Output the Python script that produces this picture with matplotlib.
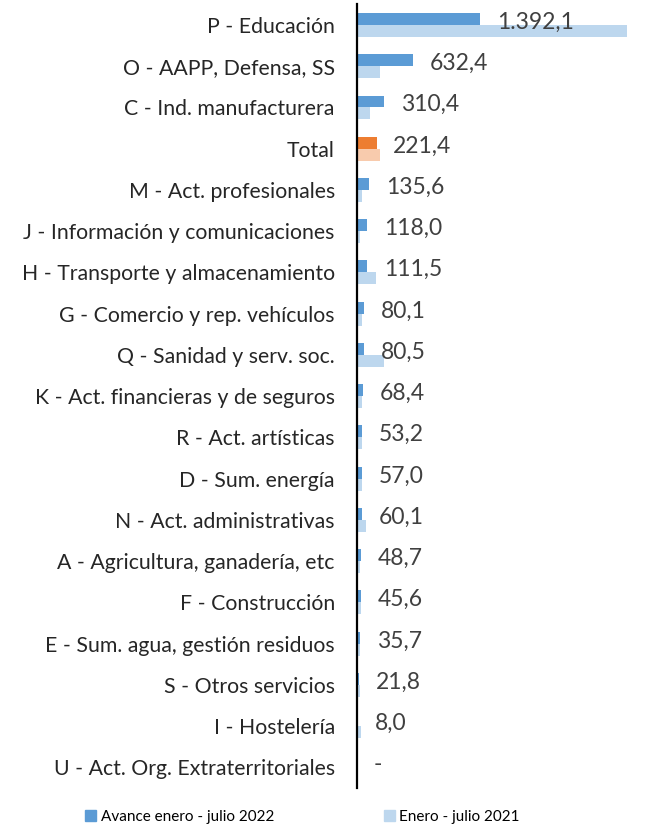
import matplotlib
matplotlib.use("Agg")
import matplotlib.pyplot as plt
from matplotlib.patches import Patch
import numpy as np

plt.rcParams['font.family'] = ['Lato', 'DejaVu Sans']

categories = [
    "P - Educación",
    "O - AAPP, Defensa, SS",
    "C - Ind. manufacturera",
    "Total",
    "M - Act. profesionales",
    "J - Información y comunicaciones",
    "H - Transporte y almacenamiento",
    "G - Comercio y rep. vehículos",
    "Q - Sanidad y serv. soc.",
    "K - Act. financieras y de seguros",
    "R - Act. artísticas",
    "D - Sum. energía",
    "N - Act. administrativas",
    "A - Agricultura, ganadería, etc",
    "F - Construcción",
    "E - Sum. agua, gestión residuos",
    "S - Otros servicios",
    "I - Hostelería",
    "U - Act. Org. Extraterritoriales",
]
# avance enero - julio 2022 (labelled values)
v2022 = [1392.1, 632.4, 310.4, 221.4, 135.6, 118.0, 111.5, 80.1, 80.5,
         68.4, 53.2, 57.0, 60.1, 48.7, 45.6, 35.7, 21.8, 8.0, 0.0]
# enero - julio 2021
v2021 = [3055, 260, 147, 260, 57, 34, 215, 57, 306,
         57, 55, 57, 102, 34, 50, 30, 30, 50, 0]
labels_2022 = ["1.392,1", "632,4", "310,4", "221,4", "135,6", "118,0", "111,5",
               "80,1", "80,5", "68,4", "53,2", "57,0", "60,1", "48,7", "45,6",
               "35,7", "21,8", "8,0", "-"]

blue = "#5B9BD5"
light_blue = "#BDD7EE"
orange = "#ED7D31"
light_orange = "#F8CBAD"

fig = plt.figure(figsize=(6.58, 8.27), dpi=100)
ax = fig.add_axes([0.5426, 0.0472, 0.4453, 0.9475])

y = np.arange(len(categories))
h = 0.29
c1 = [orange if c == "Total" else blue for c in categories]
c2 = [light_orange if c == "Total" else light_blue for c in categories]
ax.barh(y - h / 2, v2022, height=h, color=c1)
ax.barh(y + h / 2, v2021, height=h, color=c2)

for yi, v, lab in zip(y, v2022, labels_2022):
    ax.text(v + 190, yi - h / 2 + 0.08, lab, va='center', ha='left',
            fontsize=16.5, color='#404040')

ax.set_xlim(0, 3317)
ax.set_ylim(len(categories) - 0.5, -0.5)
ax.set_yticks(y)
ax.set_yticklabels(categories, fontsize=15.3, color='#262626')
ax.tick_params(axis='y', length=0, pad=16)
ax.set_xticks([])
for s in ['top', 'right', 'bottom']:
    ax.spines[s].set_visible(False)
ax.spines['left'].set_linewidth(1.6)
ax.spines['left'].set_color('black')

handles = [Patch(color=blue, label="Avance enero - julio 2022"),
           Patch(color=light_blue, label="Enero - julio 2021")]
fig.legend(handles=handles, loc='center', bbox_to_anchor=(0.46, 0.012),
           ncol=2, frameon=False, fontsize=11, handlelength=0.7,
           handleheight=0.7, handletextpad=0.3, columnspacing=7.2)

fig.savefig("out.png", dpi=100)
